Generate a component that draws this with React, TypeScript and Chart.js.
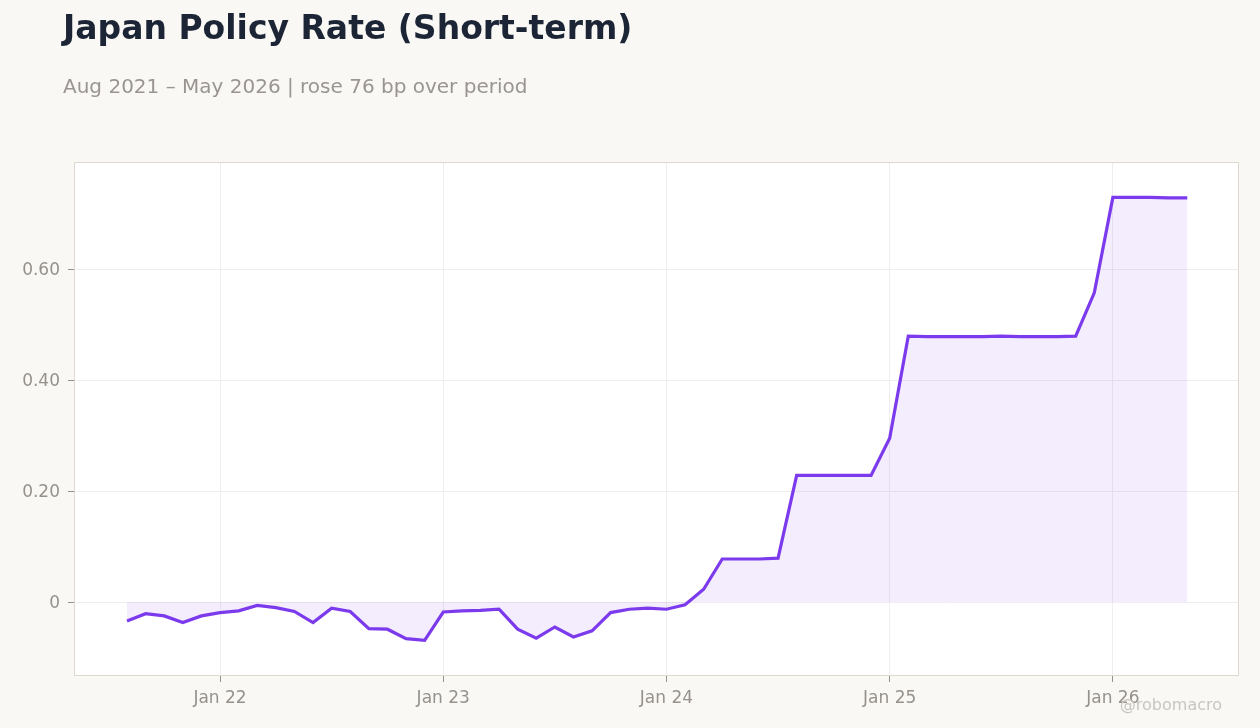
import { useEffect, useRef } from 'react'
import { Chart, registerables } from 'chart.js'

Chart.register(...registerables)

// monthly observations, Aug 2021 – May 2026
const months = [
  '2021-08', '2021-09', '2021-10', '2021-11', '2021-12',
  '2022-01', '2022-02', '2022-03', '2022-04', '2022-05', '2022-06', '2022-07', '2022-08', '2022-09', '2022-10', '2022-11', '2022-12',
  '2023-01', '2023-02', '2023-03', '2023-04', '2023-05', '2023-06', '2023-07', '2023-08', '2023-09', '2023-10', '2023-11', '2023-12',
  '2024-01', '2024-02', '2024-03', '2024-04', '2024-05', '2024-06', '2024-07', '2024-08', '2024-09', '2024-10', '2024-11', '2024-12',
  '2025-01', '2025-02', '2025-03', '2025-04', '2025-05', '2025-06', '2025-07', '2025-08', '2025-09', '2025-10', '2025-11', '2025-12',
  '2026-01', '2026-02', '2026-03', '2026-04', '2026-05',
]
const rate = [
  -0.034, -0.021, -0.025, -0.037, -0.025,
  -0.019, -0.016, -0.006, -0.010, -0.017, -0.037, -0.011, -0.017, -0.048, -0.049, -0.066, -0.069,
  -0.018, -0.016, -0.015, -0.013, -0.049, -0.065, -0.045, -0.063, -0.052, -0.019, -0.013, -0.011,
  -0.013, -0.005, 0.023, 0.0775, 0.0775, 0.0775, 0.079, 0.228, 0.228, 0.228, 0.228, 0.228,
  0.295, 0.479, 0.478, 0.478, 0.478, 0.478, 0.479, 0.478, 0.478, 0.478, 0.479, 0.557,
  0.729, 0.729, 0.729, 0.728, 0.728,
]
const xTickMonths = ['2022-01', '2023-01', '2024-01', '2025-01', '2026-01']
const xTickLabels = ['Jan 22', 'Jan 23', 'Jan 24', 'Jan 25', 'Jan 26']
const yTicks = [0, 0.2, 0.4, 0.6]

// months since Jan 2022
const monthIndex = (s: string) => {
  const [y, m] = s.split('-').map(Number)
  return (y - 2022) * 12 + (m - 1)
}

const FONT = "'DejaVu Sans', sans-serif"
const TICK_COLOR = '#96918b'

const frame = {
  id: 'frame',
  beforeDraw(chart: any) {
    const { ctx, chartArea: a } = chart
    ctx.save()
    ctx.fillStyle = '#ffffff'
    ctx.fillRect(a.left, a.top, a.right - a.left, a.bottom - a.top)
    ctx.restore()
  },
  afterDraw(chart: any) {
    const { ctx, chartArea: a } = chart
    ctx.save()
    ctx.strokeStyle = '#ddd8d0'
    ctx.lineWidth = 1
    ctx.strokeRect(a.left + 0.5, a.top + 0.5, a.right - a.left - 1, a.bottom - a.top - 1)
    ctx.restore()
  },
}

function RateChart() {
  const canvasRef = useRef<HTMLCanvasElement | null>(null)
  const chartRef = useRef<Chart | null>(null)

  useEffect(() => {
    if (!canvasRef.current) return
    const ctx = canvasRef.current.getContext('2d')!
    const points = months.map((m, i) => ({ x: monthIndex(m), y: rate[i] }))
    const xTicks = xTickMonths.map(monthIndex)

    chartRef.current = new Chart(ctx, {
      type: 'line',
      data: {
        datasets: [
          {
            data: points,
            borderColor: '#7c3aed',
            borderWidth: 3.2,
            backgroundColor: 'rgba(124,58,237,0.09)',
            fill: 'origin',
            pointRadius: 0,
            tension: 0,
          },
        ],
      },
      options: {
        responsive: true,
        maintainAspectRatio: false,
        animation: false,
        layout: { padding: { top: 162, right: 21, left: 0, bottom: 0 } },
        plugins: {
          legend: { display: false },
          tooltip: { enabled: false },
        },
        scales: {
          x: {
            type: 'linear',
            min: -7.85,
            max: 54.78,
            afterBuildTicks: (s: any) => {
              s.ticks = xTicks.map((v) => ({ value: v }))
            },
            afterFit: (s: any) => {
              s.height = 52
            },
            ticks: {
              color: TICK_COLOR,
              font: { family: FONT, size: 17 },
              padding: 6,
              maxRotation: 0,
              callback: (v: any) => xTickLabels[xTicks.indexOf(v)] ?? '',
            },
            grid: { color: '#efedf0', tickLength: 6, tickColor: TICK_COLOR },
            border: { display: false },
          },
          y: {
            min: -0.1333,
            max: 0.7928,
            afterBuildTicks: (s: any) => {
              s.ticks = yTicks.map((v) => ({ value: v }))
            },
            afterFit: (s: any) => {
              s.width = 74
            },
            ticks: {
              color: TICK_COLOR,
              font: { family: FONT, size: 17 },
              padding: 8,
              labelOffset: 1.5,
              callback: (v: any) => (v === 0 ? '0' : Number(v).toFixed(2)),
            },
            grid: { color: '#f0eeec', tickLength: 6, tickColor: TICK_COLOR },
            border: { display: false },
          },
        },
      },
      plugins: [frame],
    })

    return () => chartRef.current?.destroy()
  }, [])

  return <canvas ref={canvasRef} />
}

export default function App() {
  return (
    <div
      style={{
        position: 'fixed',
        left: 0,
        top: 0,
        width: 1260,
        height: 728,
        background: '#f9f8f5',
        fontFamily: FONT,
      }}
    >
      <div style={{ position: 'absolute', left: 0, top: 0, width: 1260, height: 728 }}>
        <RateChart />
      </div>
      <div
        style={{
          position: 'absolute',
          left: 63,
          top: 11,
          fontSize: 33,
          lineHeight: '33px',
          fontWeight: 'bold',
          color: '#1c2535',
          whiteSpace: 'nowrap',
        }}
      >
        Japan Policy Rate (Short-term)
      </div>
      <div
        style={{
          position: 'absolute',
          left: 63,
          top: 76,
          fontSize: 20,
          lineHeight: '20px',
          color: '#9a9590',
          whiteSpace: 'nowrap',
        }}
      >
        Aug 2021 – May 2026 | rose 76 bp over period
      </div>
      <div
        style={{
          position: 'absolute',
          right: 38,
          top: 697,
          fontSize: 16,
          lineHeight: '16px',
          color: '#c9c6c1',
          whiteSpace: 'nowrap',
        }}
      >
        @robomacro
      </div>
    </div>
  )
}
